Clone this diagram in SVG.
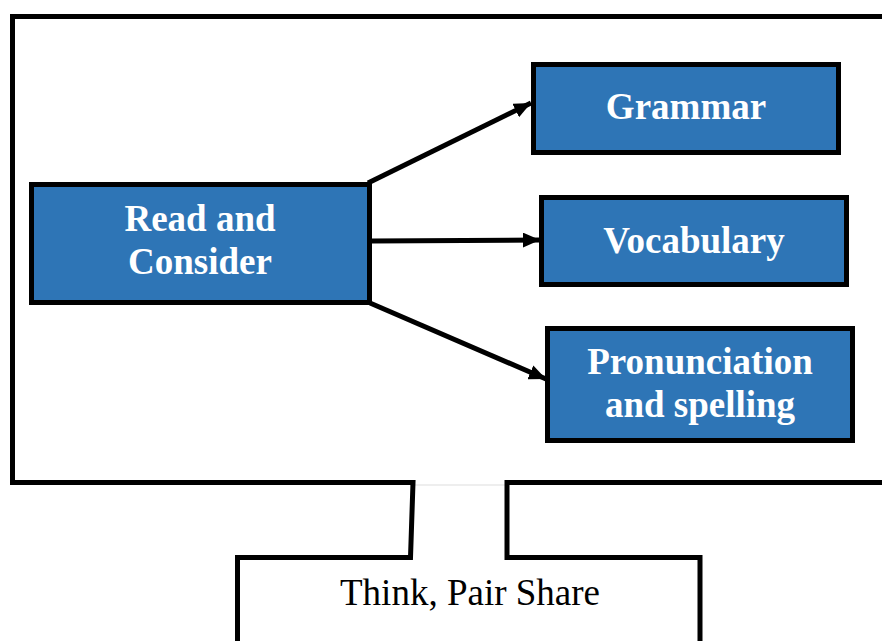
<svg xmlns="http://www.w3.org/2000/svg" width="882" height="641" viewBox="0 0 882 641">
  <defs>
    <marker id="arrowhead" markerWidth="3.4" markerHeight="3" refX="3.4" refY="1.5" orient="auto" markerUnits="strokeWidth">
      <path d="M0,0 L3.4,1.5 L0,3 Z" fill="#000"/>
    </marker>
    <style>
      .frame { fill: none; stroke: #000; stroke-width: 5; }
      .box { fill: #2E75B6; stroke: #000; stroke-width: 5; }
      .label { font-family: "Liberation Serif", "Times New Roman", serif; font-weight: bold; font-size: 37px; fill: #fff; text-anchor: middle; }
      .plain { font-family: "Liberation Serif", "Times New Roman", serif; font-size: 37px; fill: #000; text-anchor: middle; }
      .link { stroke: #000; stroke-width: 5; fill: none; marker-end: url(#arrowhead); }
    </style>
  </defs>
  <rect width="882" height="641" fill="#fff"/>

  <!-- outer frame with a neck leading down to the bottom box -->
  <g id="frame">
    <line x1="410" y1="485" x2="507" y2="485" stroke="#ddd" stroke-width="1"/>
    <path class="frame" d="M884,16.5 H12.5 V482.5 H413 L410.5,557.5 H237.5 V643"/>
    <path class="frame" d="M884,482.5 H507 V557.5 H700 V643"/>
  </g>

  <g id="think-pair-share">
    <text class="plain" x="470" y="605">Think, Pair Share</text>
  </g>

  <g id="connectors">
    <line class="link" x1="368" y1="183" x2="531" y2="103"/>
    <line class="link" x1="372" y1="241" x2="540" y2="240"/>
    <line class="link" x1="370" y1="303" x2="546" y2="379"/>
  </g>

  <g id="read-and-consider">
    <rect class="box" x="31.5" y="184.5" width="338" height="118"/>
    <text class="label" x="200" y="231">Read and</text>
    <text class="label" x="200" y="274">Consider</text>
  </g>

  <g id="grammar">
    <rect class="box" x="533.5" y="64.5" width="305" height="88"/>
    <text class="label" x="686" y="119">Grammar</text>
  </g>

  <g id="vocabulary">
    <rect class="box" x="541.5" y="197.5" width="305" height="87"/>
    <text class="label" x="694" y="253">Vocabulary</text>
  </g>

  <g id="pronunciation">
    <rect class="box" x="547.5" y="328.5" width="305" height="112"/>
    <text class="label" x="700" y="374">Pronunciation</text>
    <text class="label" x="700" y="417">and spelling</text>
  </g>
</svg>
